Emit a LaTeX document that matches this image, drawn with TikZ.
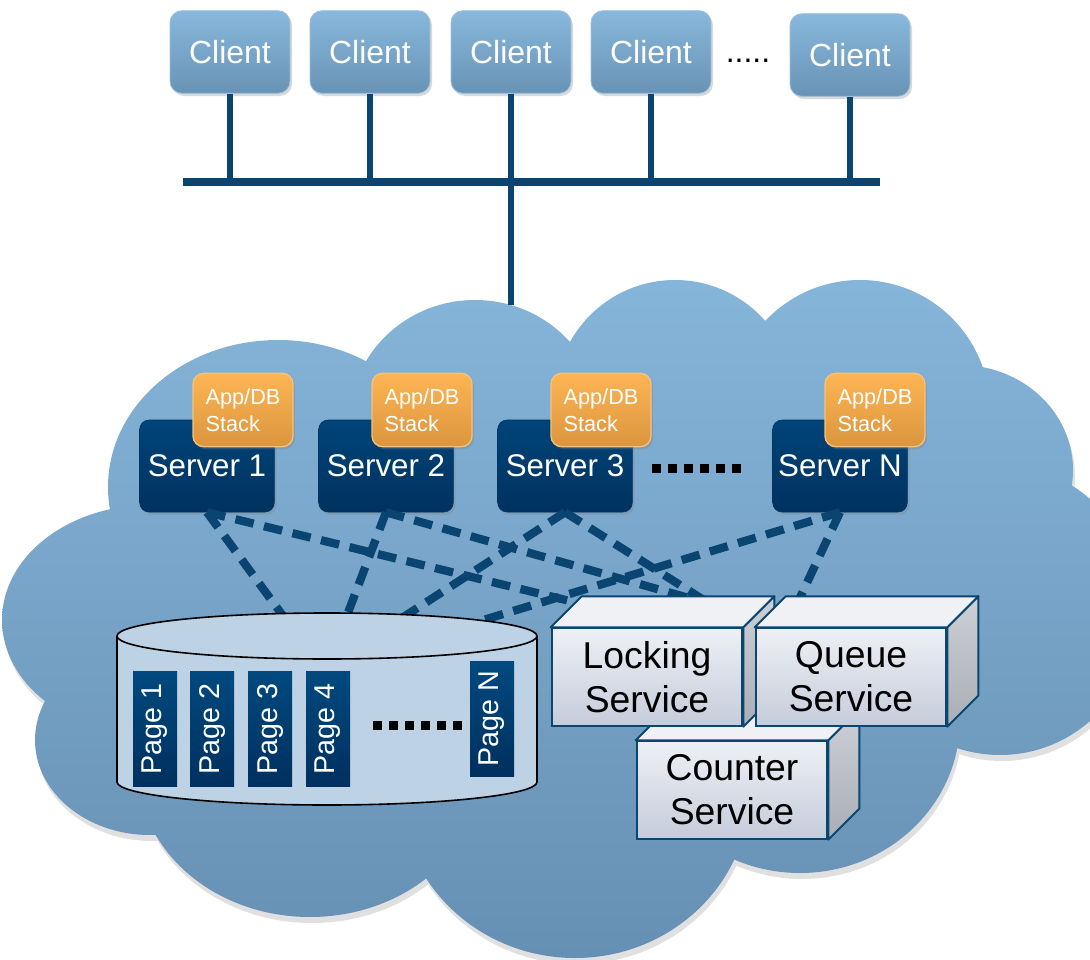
\documentclass[tikz,border=0pt]{standalone}
\usepackage{fontspec}
\setmainfont{Liberation Sans}
\usetikzlibrary{shadows}

\definecolor{cloudTop}{HTML}{86B5DA}
\definecolor{cloudBot}{HTML}{6690B3}
\definecolor{cliTop}{HTML}{88B8DC}
\definecolor{cliBot}{HTML}{6893B5}
\definecolor{cliEdge}{HTML}{9CC2E0}
\definecolor{srvTop}{HTML}{004479}
\definecolor{srvBot}{HTML}{00325F}
\definecolor{stkTop}{HTML}{FDB553}
\definecolor{stkBot}{HTML}{DB953E}
\definecolor{stkEdge}{HTML}{F7C27A}
\definecolor{lnk}{HTML}{0A4470}
\definecolor{diskFill}{HTML}{BDD3E5}
\definecolor{pageL}{HTML}{00497E}
\definecolor{pageR}{HTML}{00305F}
\definecolor{boxTop}{HTML}{EEF0F5}
\definecolor{boxBot}{HTML}{C5CCDA}
\definecolor{boxFace}{HTML}{EFF1F5}
\definecolor{sideTop}{HTML}{CDD0D5}
\definecolor{sideBot}{HTML}{A9ADB5}
\definecolor{boxEdge}{HTML}{0B4670}

\tikzset{
  softshadow/.style={drop shadow={shadow xshift=1.5pt, shadow yshift=-2pt, opacity=.3}},
  client/.style={rounded corners=9pt, top color=cliTop, bottom color=cliBot, draw=cliEdge,
    line width=.6pt, text=white, minimum width=90pt, minimum height=62pt,
    font=\fontsize{24}{28}\selectfont, softshadow},
  server/.style={rounded corners=7pt, top color=srvTop, bottom color=srvBot, draw=srvBot,
    text=white, minimum width=101pt, minimum height=69pt,
    font=\fontsize{23.5}{27}\selectfont, softshadow},
  stack/.style={rounded corners=8pt, top color=stkTop, bottom color=stkBot, draw=stkEdge,
    line width=1pt, text=white, minimum width=75pt, minimum height=55pt, align=left,
    font=\fontsize{16.3}{20}\selectfont, softshadow},
  svcbox/.style={draw=boxEdge, line width=1.5pt, top color=boxTop, bottom color=boxBot,
    minimum width=143pt, minimum height=73pt, inner sep=0pt, align=center,
    font=\fontsize{28}{33}\selectfont},
  topface/.style={fill=boxFace, draw=boxEdge, line width=1.5pt, line join=round},
  sideface/.style={top color=sideTop, bottom color=sideBot, draw=boxEdge, line width=1.5pt, line join=round},
  page/.style={rotate=90, top color=pageL, bottom color=pageR, text=white,
    minimum width=86pt, minimum height=33pt, inner sep=0pt,
    font=\fontsize{21.5}{24}\selectfont},
  bus/.style={draw=lnk, line width=6pt},
  drop/.style={draw=lnk, line width=5pt},
  link/.style={draw=lnk, line width=6.2pt, dash pattern=on 14pt off 8pt},
  sqdots/.style={line width=6.75pt, dash pattern=on 6.75pt off 5.25pt}
}

% the cloud is a union of ellipses
\newcommand{\cloudbody}[1]{%
  \path[#1] (278,487) ellipse [x radius=170, y radius=147]
    (475,420) ellipse [x radius=125, y radius=120]
    (675,400) ellipse [x radius=120, y radius=120]
    (860,410) ellipse [x radius=130, y radius=130]
    (960,470) ellipse [x radius=113, y radius=105]
    (1000,610) ellipse [x radius=140, y radius=145]
    (150,620) ellipse [x radius=148, y radius=115]
    (150,740) ellipse [x radius=115, y radius=95]
    (310,770) ellipse [x radius=172, y radius=147]
    (575,790) ellipse [x radius=175, y radius=168]
    (800,720) ellipse [x radius=160, y radius=153]
    (560,600) ellipse [x radius=420, y radius=230];}

\begin{document}
\begin{tikzpicture}[x=0.75pt, y=-0.75pt]
  \useasboundingbox (0,0) rectangle (1090,960);
  % cloud
  \cloudbody{fill=black, opacity=.12, shift={(2,6)}}
  \cloudbody{top color=cloudTop, bottom color=cloudBot}
  % clients
  \node[client] (c1) at (230,52) {Client};
  \node[client] (c2) at (370,52) {Client};
  \node[client] (c3) at (511,52) {Client};
  \node[client] (c4) at (651,52) {Client};
  \node[client] (c5) at (850,55) {Client};
  \node[font=\fontsize{24}{28}\selectfont] (cdots) at (748,61) {.....};
  % network
  \coordinate (busL) at (183,182);
  \coordinate (busR) at (880,182);
  \coordinate (netIn) at (511,305);
  \draw[drop] (c1.south) -- (c1.south |- busL);
  \draw[drop] (c2.south) -- (c2.south |- busL);
  \draw[drop] (c4.south) -- (c4.south |- busL);
  \draw[drop] (c5.south) -- (c5.south |- busL);
  \draw[drop] (c3.south) -- (netIn);
  \draw[bus] (busL) -- (busR);
  % servers
  \node[server] (s1) at (207,466) {Server 1};
  \node[server] (s2) at (386,466) {Server 2};
  \node[server] (s3) at (565,466) {Server 3};
  \node[server] (sN) at (840,466) {Server N};
  \node[stack] (k1) at (243,410) {App/DB\\Stack};
  \node[stack] (k2) at (422,410) {App/DB\\Stack};
  \node[stack] (k3) at (601,410) {App/DB\\Stack};
  \node[stack] (kN) at (875,410) {App/DB\\Stack};
  \draw[sqdots] (652,468) -- (742,468);
  % links
  \coordinate (d1) at (286,620);
  \coordinate (d2) at (346,618);
  \coordinate (d3) at (402,618);
  \coordinate (d4) at (470,624);
  \coordinate (l1) at (582,604);
  \coordinate (l2) at (710,604);
  \coordinate (q1) at (797,604);
  \draw[link] (s1.south) -- (d1);
  \draw[link] (s1.south) -- (l1);
  \draw[link] (s2.south) -- (d2);
  \draw[link] (s2.south) -- (l2);
  \draw[link] (s3.south) -- (d3);
  \draw[link] (s3.south) -- (l2);
  \draw[link] (sN.south) -- (d4);
  \draw[link] (sN.south) -- (q1);
  % disk
  \fill[diskFill] (117,636) rectangle (537,782);
  \fill[diskFill] (327,782) ellipse [x radius=210, y radius=23];
  \draw[line width=1.2pt] (117,636) -- (117,782) arc [start angle=180, end angle=0, x radius=210, y radius=23] -- (537,636);
  \draw[line width=1.2pt, fill=diskFill] (327,636) ellipse [x radius=210, y radius=23];
  % pages
  \node[page] (p1) at (155,729) {Page 1};
  \node[page] (p2) at (212,729) {Page 2};
  \node[page] (p3) at (270,729) {Page 3};
  \node[page] (p4) at (328,729) {Page 4};
  \node[page] (pN) at (492,719) {Page N};
  \draw[sqdots] (373,725) -- (463,725);
  % counter service
  \node[svcbox] (cnt) at (732,790) {Counter\\Service};
  \path[topface] (cnt.north west) -- ++(31,-31) -- ([shift={(31,-31)}]cnt.north east) -- (cnt.north east) -- cycle;
  \path[sideface] (cnt.north east) -- ++(31,-31) -- ([shift={(31,-31)}]cnt.south east) -- (cnt.south east) -- cycle;
  % locking service
  \node[svcbox] (lock) at (647,677) {Locking\\Service};
  \path[topface] (lock.north west) -- ++(31,-31) -- ([shift={(31,-31)}]lock.north east) -- (lock.north east) -- cycle;
  \path[sideface] (lock.north east) -- ++(31,-31) -- ([shift={(31,-31)}]lock.south east) -- (lock.south east) -- cycle;
  % queue service
  \node[svcbox] (queue) at (851,677) {Queue\\Service};
  \path[topface] (queue.north west) -- ++(31,-31) -- ([shift={(31,-31)}]queue.north east) -- (queue.north east) -- cycle;
  \path[sideface] (queue.north east) -- ++(31,-31) -- ([shift={(31,-31)}]queue.south east) -- (queue.south east) -- cycle;
\end{tikzpicture}
\end{document}
